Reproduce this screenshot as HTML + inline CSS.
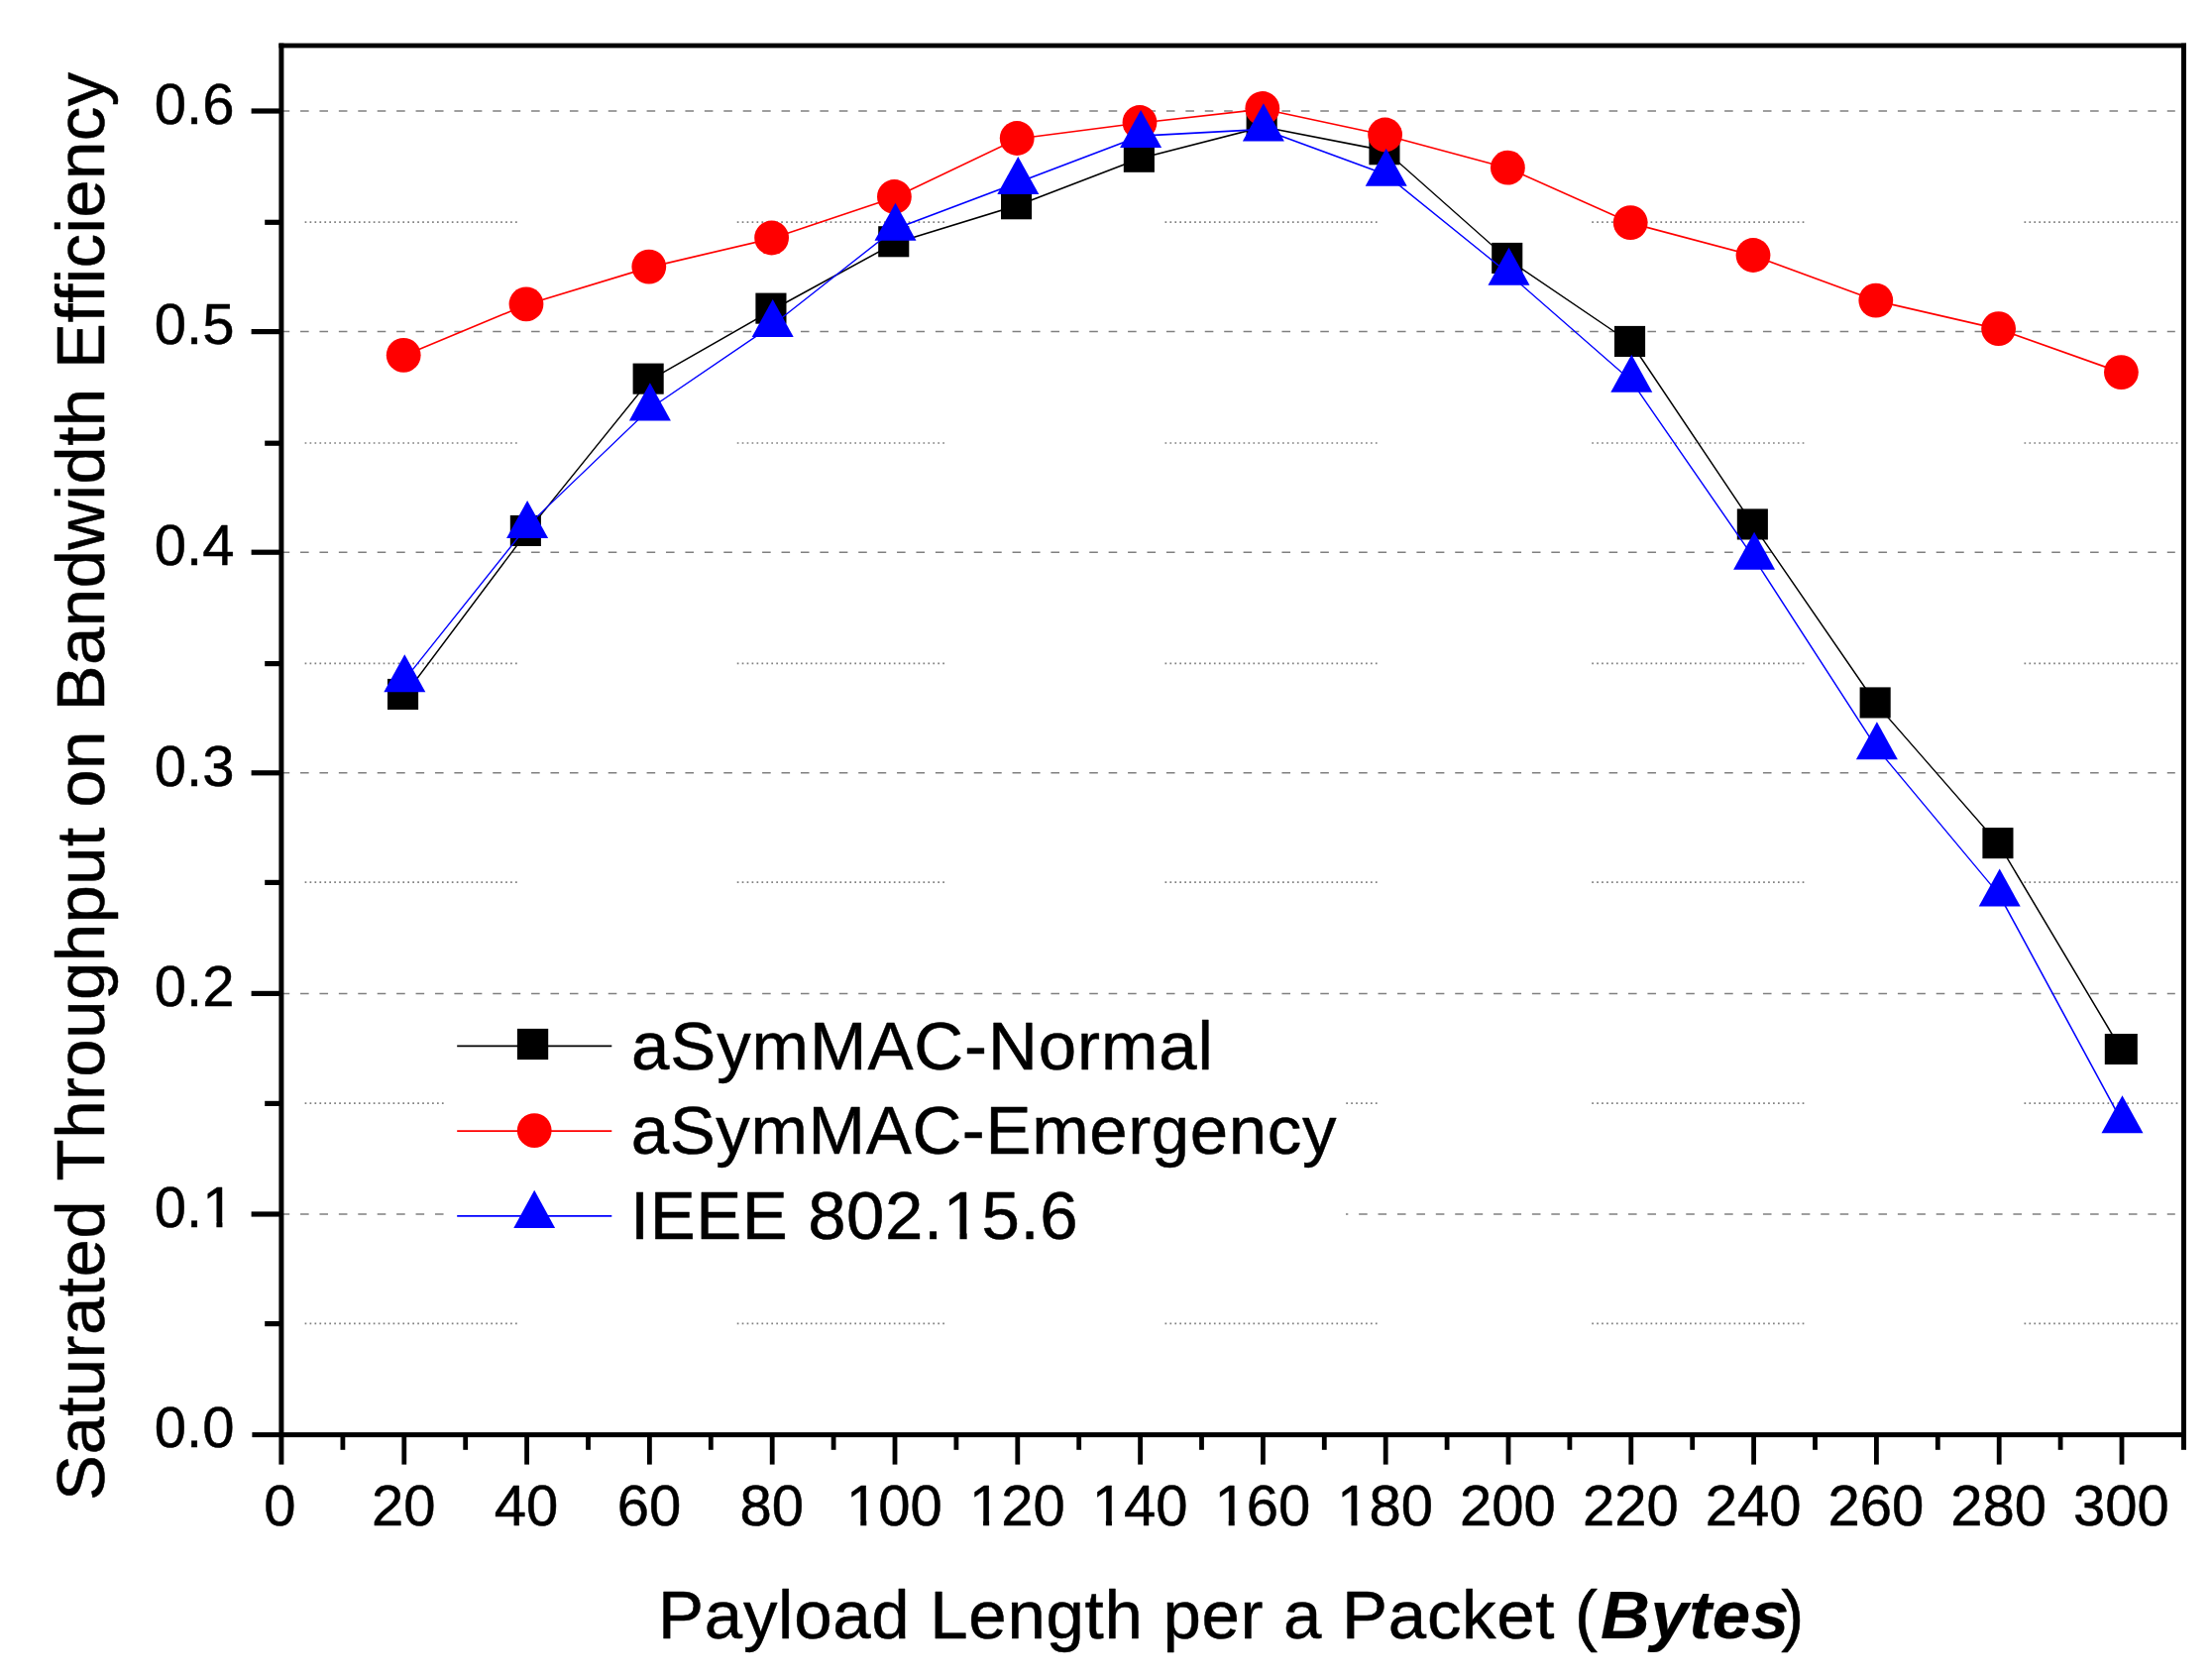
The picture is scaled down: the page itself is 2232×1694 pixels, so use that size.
<!DOCTYPE html>
<html lang="en"><head><meta charset="utf-8"><title>Saturated Throughput on Bandwidth Efficiency</title>
<style>html,body{margin:0;padding:0;background:#fff;}body{width:2232px;height:1694px;overflow:hidden;}svg{display:block;}text{font-family:"Liberation Sans",Arial,sans-serif;font-variant-ligatures:none;font-kerning:none;fill:#000;stroke:#000;stroke-width:0.5px;stroke-linejoin:round;}</style></head><body>
<svg width="2232" height="1694" viewBox="0 0 2232 1694">
<rect x="0" y="0" width="2232" height="1694" fill="#fff"/>
<g fill="none" stroke="#808080" stroke-width="1.7" stroke-dasharray="1.7 3.24">
<line x1="307.60" y1="1335.4" x2="522.50" y2="1335.4"/>
<line x1="743.75" y1="1335.4" x2="953.50" y2="1335.4"/>
<line x1="1175.50" y1="1335.4" x2="1390.00" y2="1335.4"/>
<line x1="1606.25" y1="1335.4" x2="1820.75" y2="1335.4"/>
<line x1="2042.50" y1="1335.4" x2="2198.30" y2="1335.4"/>
<line x1="307.60" y1="1113.2" x2="522.50" y2="1113.2"/>
<line x1="743.75" y1="1113.2" x2="953.50" y2="1113.2"/>
<line x1="1175.50" y1="1113.2" x2="1390.00" y2="1113.2"/>
<line x1="1606.25" y1="1113.2" x2="1820.75" y2="1113.2"/>
<line x1="2042.50" y1="1113.2" x2="2198.30" y2="1113.2"/>
<line x1="307.60" y1="890.2" x2="522.50" y2="890.2"/>
<line x1="743.75" y1="890.2" x2="953.50" y2="890.2"/>
<line x1="1175.50" y1="890.2" x2="1390.00" y2="890.2"/>
<line x1="1606.25" y1="890.2" x2="1820.75" y2="890.2"/>
<line x1="2042.50" y1="890.2" x2="2198.30" y2="890.2"/>
<line x1="307.60" y1="669.4" x2="522.50" y2="669.4"/>
<line x1="743.75" y1="669.4" x2="953.50" y2="669.4"/>
<line x1="1175.50" y1="669.4" x2="1390.00" y2="669.4"/>
<line x1="1606.25" y1="669.4" x2="1820.75" y2="669.4"/>
<line x1="2042.50" y1="669.4" x2="2198.30" y2="669.4"/>
<line x1="307.60" y1="447.0" x2="522.50" y2="447.0"/>
<line x1="743.75" y1="447.0" x2="953.50" y2="447.0"/>
<line x1="1175.50" y1="447.0" x2="1390.00" y2="447.0"/>
<line x1="1606.25" y1="447.0" x2="1820.75" y2="447.0"/>
<line x1="2042.50" y1="447.0" x2="2198.30" y2="447.0"/>
<line x1="307.60" y1="224.1" x2="522.50" y2="224.1"/>
<line x1="743.75" y1="224.1" x2="953.50" y2="224.1"/>
<line x1="1175.50" y1="224.1" x2="1390.00" y2="224.1"/>
<line x1="1606.25" y1="224.1" x2="1820.75" y2="224.1"/>
<line x1="2042.50" y1="224.1" x2="2198.30" y2="224.1"/>
</g>
<g fill="none" stroke="#808080" stroke-width="1.5">
<line x1="283.6" y1="1225.0" x2="2194.8" y2="1225.0" stroke-dasharray="8.6 10.82"/>
<line x1="283.6" y1="1002.4" x2="2194.8" y2="1002.4" stroke-dasharray="8.6 10.82"/>
<line x1="283.6" y1="779.8" x2="2194.8" y2="779.8" stroke-dasharray="8.6 10.82"/>
<line x1="283.6" y1="557.2" x2="2194.8" y2="557.2" stroke-dasharray="8.6 10.82"/>
<line x1="283.6" y1="334.6" x2="2194.8" y2="334.6" stroke-dasharray="8.6 10.82"/>
<line x1="283.6" y1="112.0" x2="2194.8" y2="112.0" stroke-dasharray="8.6 10.82"/>
</g>
<rect x="448" y="1010" width="910" height="300" fill="#fff"/>
<g fill="#000" stroke="none">
<rect x="281.4" y="43.6" width="5" height="1434"/>
<rect x="2201" y="43.6" width="5" height="1419.2"/>
<rect x="281.4" y="43.6" width="1924.6" height="4.8"/>
<rect x="254.4" y="1445.1" width="1951.6" height="5"/>
<rect x="253.6" y="1222.4" width="29" height="5.2"/>
<rect x="253.6" y="999.8" width="29" height="5.2"/>
<rect x="253.6" y="777.2" width="29" height="5.2"/>
<rect x="253.6" y="554.6" width="29" height="5.2"/>
<rect x="253.6" y="332.0" width="29" height="5.2"/>
<rect x="253.6" y="109.4" width="29" height="5.2"/>
<rect x="267.2" y="1333.0" width="15" height="5.2"/>
<rect x="267.2" y="1110.8" width="15" height="5.2"/>
<rect x="267.2" y="887.8" width="15" height="5.2"/>
<rect x="267.2" y="667.0" width="15" height="5.2"/>
<rect x="267.2" y="444.6" width="15" height="5.2"/>
<rect x="267.2" y="221.7" width="15" height="5.2"/>
<rect x="405.4" y="1447" width="4.8" height="30.6"/>
<rect x="529.2" y="1447" width="4.8" height="30.6"/>
<rect x="653.0" y="1447" width="4.8" height="30.6"/>
<rect x="776.8" y="1447" width="4.8" height="30.6"/>
<rect x="900.6" y="1447" width="4.8" height="30.6"/>
<rect x="1024.4" y="1447" width="4.8" height="30.6"/>
<rect x="1148.2" y="1447" width="4.8" height="30.6"/>
<rect x="1272.0" y="1447" width="4.8" height="30.6"/>
<rect x="1395.8" y="1447" width="4.8" height="30.6"/>
<rect x="1519.6" y="1447" width="4.8" height="30.6"/>
<rect x="1643.4" y="1447" width="4.8" height="30.6"/>
<rect x="1767.2" y="1447" width="4.8" height="30.6"/>
<rect x="1891.0" y="1447" width="4.8" height="30.6"/>
<rect x="2014.8" y="1447" width="4.8" height="30.6"/>
<rect x="2138.6" y="1447" width="4.8" height="30.6"/>
<rect x="343.5" y="1447" width="4.8" height="15.8"/>
<rect x="467.3" y="1447" width="4.8" height="15.8"/>
<rect x="591.1" y="1447" width="4.8" height="15.8"/>
<rect x="714.9" y="1447" width="4.8" height="15.8"/>
<rect x="838.7" y="1447" width="4.8" height="15.8"/>
<rect x="962.5" y="1447" width="4.8" height="15.8"/>
<rect x="1086.3" y="1447" width="4.8" height="15.8"/>
<rect x="1210.1" y="1447" width="4.8" height="15.8"/>
<rect x="1333.9" y="1447" width="4.8" height="15.8"/>
<rect x="1457.7" y="1447" width="4.8" height="15.8"/>
<rect x="1581.5" y="1447" width="4.8" height="15.8"/>
<rect x="1705.3" y="1447" width="4.8" height="15.8"/>
<rect x="1829.1" y="1447" width="4.8" height="15.8"/>
<rect x="1952.9" y="1447" width="4.8" height="15.8"/>
<rect x="2076.7" y="1447" width="4.8" height="15.8"/>
</g>
<g>
<g stroke="#000" fill="none" stroke-linecap="round">
<line x1="407.8" y1="702.0" x2="531.6" y2="537.0" stroke-width="1.40"/>
<line x1="531.6" y1="537.0" x2="655.4" y2="383.7" stroke-width="1.36"/>
<line x1="655.4" y1="383.7" x2="779.2" y2="312.8" stroke-width="1.52"/>
<line x1="779.2" y1="312.8" x2="903.0" y2="245.2" stroke-width="1.54"/>
<line x1="903.0" y1="245.2" x2="1026.8" y2="207.2" stroke-width="1.67"/>
<line x1="1026.8" y1="207.2" x2="1150.6" y2="159.8" stroke-width="1.63"/>
<line x1="1150.6" y1="159.8" x2="1274.4" y2="128.0" stroke-width="1.70"/>
<line x1="1274.4" y1="128.0" x2="1398.2" y2="152.2" stroke-width="1.72"/>
<line x1="1398.2" y1="152.2" x2="1522.0" y2="262.0" stroke-width="1.31"/>
<line x1="1522.0" y1="262.0" x2="1645.8" y2="346.0" stroke-width="1.45"/>
<line x1="1645.8" y1="346.0" x2="1769.6" y2="530.5" stroke-width="1.45"/>
<line x1="1769.6" y1="530.5" x2="1893.4" y2="710.5" stroke-width="1.44"/>
<line x1="1893.4" y1="710.5" x2="2017.2" y2="852.2" stroke-width="1.32"/>
<line x1="2017.2" y1="852.2" x2="2141.0" y2="1060.0" stroke-width="1.50"/>
</g>
<rect x="391.0" y="684.9" width="31.1" height="31.1" fill="#000"/>
<rect x="514.8" y="519.9" width="31.1" height="31.1" fill="#000"/>
<rect x="638.6" y="366.6" width="31.1" height="31.1" fill="#000"/>
<rect x="762.4" y="295.6" width="31.1" height="31.1" fill="#000"/>
<rect x="886.2" y="228.2" width="31.1" height="31.1" fill="#000"/>
<rect x="1010.0" y="190.2" width="31.1" height="31.1" fill="#000"/>
<rect x="1133.8" y="142.7" width="31.1" height="31.1" fill="#000"/>
<rect x="1257.6" y="110.9" width="31.1" height="31.1" fill="#000"/>
<rect x="1381.4" y="135.2" width="31.1" height="31.1" fill="#000"/>
<rect x="1505.2" y="244.9" width="31.1" height="31.1" fill="#000"/>
<rect x="1629.0" y="328.9" width="31.1" height="31.1" fill="#000"/>
<rect x="1752.8" y="513.4" width="31.1" height="31.1" fill="#000"/>
<rect x="1876.6" y="693.4" width="31.1" height="31.1" fill="#000"/>
<rect x="2000.4" y="835.1" width="31.1" height="31.1" fill="#000"/>
<rect x="2123.8" y="1043.0" width="33" height="31" fill="#000"/>
<g stroke="#f00" fill="none" stroke-linecap="round">
<line x1="407.8" y1="358.8" x2="531.6" y2="307.2" stroke-width="1.62"/>
<line x1="531.6" y1="307.2" x2="655.4" y2="269.6" stroke-width="1.67"/>
<line x1="655.4" y1="269.6" x2="779.2" y2="240.5" stroke-width="1.70"/>
<line x1="779.2" y1="240.5" x2="903.0" y2="199.0" stroke-width="1.66"/>
<line x1="903.0" y1="199.0" x2="1026.8" y2="140.0" stroke-width="1.58"/>
<line x1="1026.8" y1="140.0" x2="1150.6" y2="124.0" stroke-width="1.74"/>
<line x1="1150.6" y1="124.0" x2="1274.4" y2="110.0" stroke-width="1.74"/>
<line x1="1274.4" y1="110.0" x2="1398.2" y2="136.5" stroke-width="1.71"/>
<line x1="1398.2" y1="136.5" x2="1522.0" y2="169.8" stroke-width="1.69"/>
<line x1="1522.0" y1="169.8" x2="1645.8" y2="225.1" stroke-width="1.60"/>
<line x1="1645.8" y1="225.1" x2="1769.6" y2="258.0" stroke-width="1.69"/>
<line x1="1769.6" y1="258.0" x2="1893.4" y2="303.6" stroke-width="1.64"/>
<line x1="1893.4" y1="303.6" x2="2017.2" y2="332.2" stroke-width="1.71"/>
<line x1="2017.2" y1="332.2" x2="2141.0" y2="376.1" stroke-width="1.65"/>
</g>
<circle cx="407.2" cy="358.3" r="17.4" fill="#f00"/>
<circle cx="531.0" cy="306.8" r="17.4" fill="#f00"/>
<circle cx="654.8" cy="269.1" r="17.4" fill="#f00"/>
<circle cx="778.6" cy="240.0" r="17.4" fill="#f00"/>
<circle cx="902.4" cy="198.5" r="17.4" fill="#f00"/>
<circle cx="1026.2" cy="139.5" r="17.4" fill="#f00"/>
<circle cx="1150.0" cy="123.5" r="17.4" fill="#f00"/>
<circle cx="1273.8" cy="109.5" r="17.4" fill="#f00"/>
<circle cx="1397.6" cy="136.0" r="17.4" fill="#f00"/>
<circle cx="1521.4" cy="169.2" r="17.4" fill="#f00"/>
<circle cx="1645.2" cy="224.6" r="17.4" fill="#f00"/>
<circle cx="1769.0" cy="257.5" r="17.4" fill="#f00"/>
<circle cx="1892.8" cy="303.1" r="17.4" fill="#f00"/>
<circle cx="2016.6" cy="331.7" r="17.4" fill="#f00"/>
<circle cx="2140.4" cy="375.6" r="17.4" fill="#f00"/>
<g stroke="#00f" fill="none" stroke-linecap="round">
<line x1="407.8" y1="686.4" x2="531.6" y2="531.2" stroke-width="1.37"/>
<line x1="531.6" y1="531.2" x2="655.4" y2="412.5" stroke-width="1.26"/>
<line x1="655.4" y1="412.5" x2="779.2" y2="328.2" stroke-width="1.45"/>
<line x1="779.2" y1="328.2" x2="903.0" y2="230.9" stroke-width="1.38"/>
<line x1="903.0" y1="230.9" x2="1026.8" y2="184.2" stroke-width="1.64"/>
<line x1="1026.8" y1="184.2" x2="1150.6" y2="137.2" stroke-width="1.64"/>
<line x1="1150.6" y1="137.2" x2="1274.4" y2="130.5" stroke-width="1.75"/>
<line x1="1274.4" y1="130.5" x2="1398.2" y2="175.9" stroke-width="1.64"/>
<line x1="1398.2" y1="175.9" x2="1522.0" y2="275.9" stroke-width="1.36"/>
<line x1="1522.0" y1="275.9" x2="1645.8" y2="383.9" stroke-width="1.32"/>
<line x1="1645.8" y1="383.9" x2="1769.6" y2="562.9" stroke-width="1.44"/>
<line x1="1769.6" y1="562.9" x2="1893.4" y2="754.4" stroke-width="1.47"/>
<line x1="1893.4" y1="754.4" x2="2017.2" y2="902.6" stroke-width="1.34"/>
<line x1="2017.2" y1="902.6" x2="2141.0" y2="1131.4" stroke-width="1.54"/>
</g>
<polygon points="408.3,660.2 429.3,698.3 387.3,698.3" fill="#00f"/>
<polygon points="532.1,505.0 553.1,543.1 511.1,543.1" fill="#00f"/>
<polygon points="655.9,386.3 676.9,424.4 634.9,424.4" fill="#00f"/>
<polygon points="779.7,302.0 800.7,340.1 758.7,340.1" fill="#00f"/>
<polygon points="903.5,204.7 924.5,242.8 882.5,242.8" fill="#00f"/>
<polygon points="1027.3,157.9 1048.3,196.1 1006.3,196.1" fill="#00f"/>
<polygon points="1151.1,111.0 1172.1,149.1 1130.1,149.1" fill="#00f"/>
<polygon points="1274.9,104.3 1295.9,142.4 1253.9,142.4" fill="#00f"/>
<polygon points="1398.7,149.7 1419.7,187.8 1377.7,187.8" fill="#00f"/>
<polygon points="1522.5,249.7 1543.5,287.8 1501.5,287.8" fill="#00f"/>
<polygon points="1646.3,357.7 1667.3,395.8 1625.3,395.8" fill="#00f"/>
<polygon points="1770.1,536.7 1791.1,574.8 1749.1,574.8" fill="#00f"/>
<polygon points="1893.9,728.2 1914.9,766.3 1872.9,766.3" fill="#00f"/>
<polygon points="2017.7,876.5 2038.7,914.5 1996.7,914.5" fill="#00f"/>
<polygon points="2141.5,1105.2 2162.5,1143.3 2120.5,1143.3" fill="#00f"/>
</g>
<g>
<line x1="461.2" y1="1055.3" x2="617.3" y2="1055.3" stroke="#000" stroke-width="1.8"/>
<rect x="521.9" y="1037.9" width="31.3" height="31.2" fill="#000"/>
<line x1="461.2" y1="1141.1" x2="617.3" y2="1141.1" stroke="#f00" stroke-width="1.8"/>
<circle cx="539.2" cy="1140.55" r="17.4" fill="#f00"/>
<line x1="461.2" y1="1226.9" x2="617.3" y2="1226.9" stroke="#00f" stroke-width="1.8"/>
<polygon points="539.2,1200.8 560.1,1238.9 518.3,1238.9" fill="#00f"/>
</g>
<g font-size="69" lengthAdjust="spacing">
<text id="lg1" x="637" y="1078.7" textLength="586.9" lengthAdjust="spacing">aSymMAC-Normal</text>
<text id="lg2" x="636.7" y="1164.4" textLength="711.8" lengthAdjust="spacing">aSymMAC-Emergency</text>
<text id="lg3" x="636" y="1250.3" textLength="451.5" lengthAdjust="spacing">IEEE 802.15.6</text>
</g>
<g font-size="58" text-anchor="middle">
<text class="xt" x="282.3" y="1539">0</text>
<text class="xt" x="407.3" y="1539">20</text>
<text class="xt" x="531.1" y="1539">40</text>
<text class="xt" x="654.9" y="1539">60</text>
<text class="xt" x="778.7" y="1539">80</text>
<text class="xt" x="902.5" y="1539">100</text>
<text class="xt" x="1026.3" y="1539">120</text>
<text class="xt" x="1150.1" y="1539">140</text>
<text class="xt" x="1273.9" y="1539">160</text>
<text class="xt" x="1397.7" y="1539">180</text>
<text class="xt" x="1521.5" y="1539">200</text>
<text class="xt" x="1645.3" y="1539">220</text>
<text class="xt" x="1769.1" y="1539">240</text>
<text class="xt" x="1892.9" y="1539">260</text>
<text class="xt" x="2016.7" y="1539">280</text>
<text class="xt" x="2140.5" y="1539">300</text>
</g>
<g font-size="58" text-anchor="end">
<text class="yt" x="236.5" y="1460.3">0.0</text>
<text class="yt" x="236.5" y="1237.7">0.1</text>
<text class="yt" x="236.5" y="1015.1">0.2</text>
<text class="yt" x="236.5" y="792.5">0.3</text>
<text class="yt" x="236.5" y="569.9">0.4</text>
<text class="yt" x="236.5" y="347.3">0.5</text>
<text class="yt" x="236.5" y="124.7">0.6</text>
</g>
<text id="xt" x="664.1" y="1653" font-size="69" textLength="948" lengthAdjust="spacing">Payload Length per a Packet (</text>
<text id="xtb" x="1615.1" y="1653" font-size="69" font-weight="bold" font-style="italic" textLength="190" lengthAdjust="spacing" style="stroke-width:0.2px">Bytes</text>
<text id="xtc" x="1797.3" y="1653" font-size="69" textLength="23.3" lengthAdjust="spacing">)</text>
<text id="yt" transform="translate(105.3,1514) rotate(-90)" font-size="69" textLength="1441.2" lengthAdjust="spacing">Saturated Throughput on Bandwidth Efficiency</text>
<g fill="#fff" stroke="none">
<rect x="955.04" y="1243.81" width="13.42" height="8.62"/>
<rect x="975.63" y="1243.81" width="12.42" height="8.62"/>
<rect x="857.01" y="1533.55" width="11.28" height="7.25"/>
<rect x="874.32" y="1533.55" width="10.44" height="7.25"/>
<rect x="980.81" y="1533.55" width="11.28" height="7.25"/>
<rect x="998.12" y="1533.55" width="10.44" height="7.25"/>
<rect x="1104.61" y="1533.55" width="11.28" height="7.25"/>
<rect x="1121.92" y="1533.55" width="10.44" height="7.25"/>
<rect x="1228.41" y="1533.55" width="11.28" height="7.25"/>
<rect x="1245.72" y="1533.55" width="10.44" height="7.25"/>
<rect x="1352.21" y="1533.55" width="11.28" height="7.25"/>
<rect x="1369.52" y="1533.55" width="10.44" height="7.25"/>
<rect x="207.12" y="1232.25" width="11.28" height="7.25"/>
<rect x="224.43" y="1232.25" width="10.44" height="7.25"/>
</g>
</svg></body></html>
